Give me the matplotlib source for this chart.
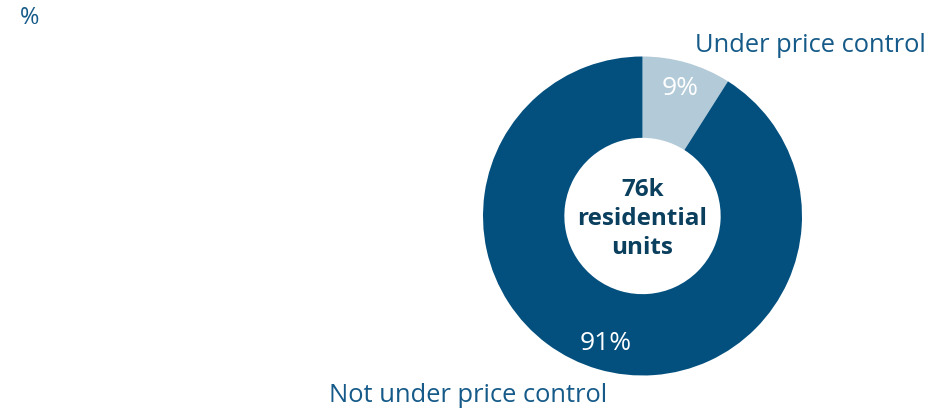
import numpy as np
import matplotlib.pyplot as plt

# share of residential units by price-control status
labels = ['Under price control', 'Not under price control']
shares = [9, 91]
pct_labels = ['9%', '91%']
center_label = '76k\nresidential\nunits'

DARK = '#03507f'
LIGHT = '#b3cad8'
TEXT = '#155a88'
CENTER_TEXT = '#0b3f5e'

plt.rcParams['font.family'] = ['Open Sans', 'DejaVu Sans']

fig = plt.figure(figsize=(9.35, 4.12), dpi=100)
ax = fig.add_axes([0, 0, 1, 1])

wedges, _ = ax.pie(shares, colors=[LIGHT, DARK], startangle=90, counterclock=False,
                   radius=1.0, wedgeprops=dict(width=0.51, linewidth=0))

# pixel scale: donut radius 1.0 == 159.5 px, centred at (642.5, 216)
r_px = 159.5
cx, cy = 642.5, 216
ax.set_aspect('auto')
ax.set_xlim(-cx / r_px, (935 - cx) / r_px)
ax.set_ylim((cy - 412) / r_px, cy / r_px)
ax.axis('off')

# percentage labels inside the ring
cum = np.cumsum([0] + shares[:-1])
for start, val, txt in zip(cum, shares, pct_labels):
    ang = np.deg2rad(90 - (start + val / 2) * 3.6)
    d = 0.835
    ax.text(d * np.cos(ang), d * np.sin(ang), txt, color='white', fontsize=19,
            ha='center', va='center')

ax.text(0, -3 / r_px, center_label, color=CENTER_TEXT, fontsize=17.5, fontweight='bold',
        ha='center', va='center', linespacing=1.3)

# category labels
ax.text((695 - cx) / r_px, (cy - 45) / r_px, labels[0], color=TEXT, fontsize=18.4,
        ha='left', va='center')
ax.text((607 - cx) / r_px, (cy - 396) / r_px, labels[1], color=TEXT, fontsize=18.4,
        ha='right', va='center')

fig.text(20 / 935, 1 - 18 / 412, '%', color=TEXT, fontsize=17, ha='left', va='center')

fig.savefig('out.png', dpi=100)
